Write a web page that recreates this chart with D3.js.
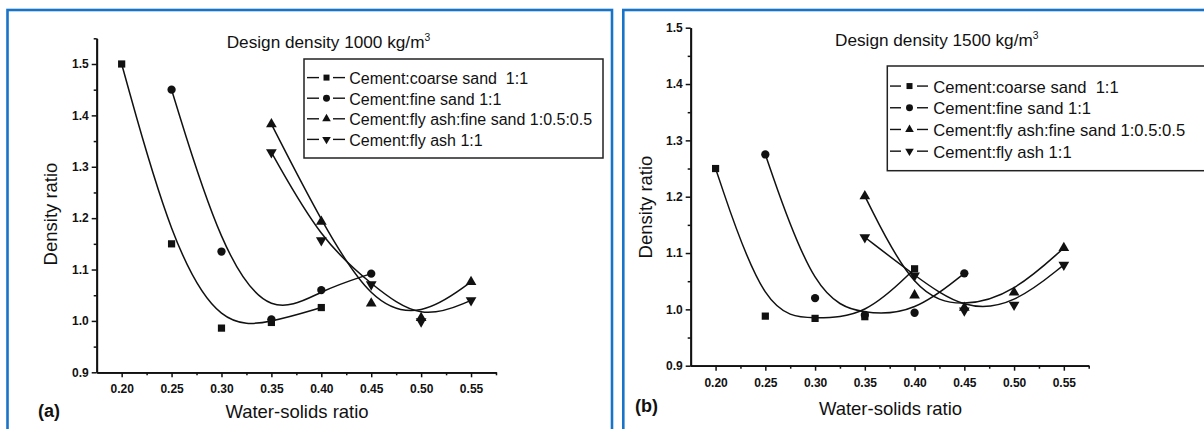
<!DOCTYPE html>
<html><head><meta charset="utf-8">
<script src="https://cdn.jsdelivr.net/npm/d3@7"></script>
<style>
body{margin:0;background:#fff}
svg{display:block}
text{font-family:"Liberation Sans",Arial,Helvetica,sans-serif;fill:#111}
</style>
</head><body><svg id="c" width="1204" height="429"></svg>
<script>
// ---------- data ----------
const xTicks = [0.20,0.25,0.30,0.35,0.40,0.45,0.50,0.55];
const xMinor = [0.225,0.275,0.325,0.375,0.425,0.475,0.525,0.575];
const yTicks = [0.9,1.0,1.1,1.2,1.3,1.4,1.5];
const yMinorA = [0.95,1.05,1.15,1.25,1.35,1.45,1.55];
const yMinorB = [0.95,1.05,1.15,1.25,1.35,1.45];
const seriesNames = ["Cement:coarse sand  1:1","Cement:fine sand 1:1","Cement:fly ash:fine sand 1:0.5:0.5","Cement:fly ash 1:1"];
const seriesMarkers = ["square","circle","triangle","triangleDown"];
const titles = ["Design density 1000 kg/m", "Design density 1500 kg/m"];
const panelLabels = ["(a)","(b)"];

// panel (a): design density 1000 kg/m3
const coarseA_x = [0.20,0.25,0.30,0.35,0.40];
const coarseA_y = [1.500,1.150,0.986,0.997,1.026];
const fineA_x = [0.25,0.30,0.35,0.40,0.45];
const fineA_y = [1.450,1.135,1.003,1.060,1.092];
const flyFineA_x = [0.35,0.40,0.45,0.50,0.55];
const flyFineA_y = [1.383,1.193,1.034,1.006,1.076];
const flyA_x = [0.35,0.40,0.45,0.50,0.55];
const flyA_y = [1.328,1.157,1.071,0.999,1.040];

// panel (b): design density 1500 kg/m3
const coarseB_x = [0.20,0.25,0.30,0.35,0.40];
const coarseB_y = [1.250,0.988,0.984,0.987,1.072];
const fineB_x = [0.25,0.30,0.35,0.40,0.45];
const fineB_y = [1.275,1.020,0.990,0.994,1.064];
const flyFineB_x = [0.35,0.40,0.45,0.50,0.55];
const flyFineB_y = [1.201,1.025,1.003,1.030,1.109];
const flyB_x = [0.35,0.40,0.45,0.50,0.55];
const flyB_y = [1.128,1.060,0.998,1.008,1.079];

// ---------- drawing ----------
const svg = d3.select("#c");
const zip = (xs, ys) => xs.map((x,i)=>({x, y: ys[i]}));

const blue = "#1874c8";
svg.append("rect").attr("x",7.5).attr("y",10).attr("width",604.5).attr("height",440)
  .attr("fill","none").attr("stroke",blue).attr("stroke-width",2.6);
svg.append("rect").attr("x",623.3).attr("y",10).attr("width",620).attr("height",440)
  .attr("fill","none").attr("stroke",blue).attr("stroke-width",2.6);

function marker(g, type, cx, cy, big){
  let sym, size;
  if(type==="square"){sym=d3.symbolSquare; size= big?52:36;}
  else if(type==="circle"){sym=d3.symbolCircle; size= big?54:38;}
  else {sym=d3.symbolTriangle; size= big?50:32;}
  const rot = type==="triangleDown" ? 180 : 0;
  g.append("path").attr("d", d3.symbol(sym, size)())
    .attr("transform", `translate(${cx},${cy}) rotate(${rot})`)
    .attr("fill","#111");
}

function panel(cfg, series){
  const g = svg.append("g");
  const x = d3.scaleLinear().domain([0.175,0.575]).range(cfg.xr);
  const y = d3.scaleLinear().domain(cfg.yd).range(cfg.yr);

  // axes
  const ax = g.append("g").attr("transform",`translate(0,${cfg.yr[0]})`)
    .call(d3.axisBottom(x).tickValues(xTicks).tickFormat(d3.format(".2f")).tickSize(5).tickSizeOuter(0).tickPadding(cfg.xpad));
  const axm = g.append("g").attr("transform",`translate(0,${cfg.yr[0]})`)
    .call(d3.axisBottom(x).tickValues(xMinor).tickFormat("").tickSize(3).tickSizeOuter(0));
  const ay = g.append("g").attr("transform",`translate(${cfg.xr[0]},0)`)
    .call(d3.axisLeft(y).tickValues(yTicks).tickFormat(d3.format(".1f")).tickSize(5).tickSizeOuter(0).tickPadding(cfg.ypad));
  const aym = g.append("g").attr("transform",`translate(${cfg.xr[0]},0)`)
    .call(d3.axisLeft(y).tickValues(cfg.yMinor).tickFormat("").tickSize(3).tickSizeOuter(0));
  [ax,axm,ay,aym].forEach(a=>{
    a.select(".domain").attr("stroke","#111").attr("stroke-width",1.8);
    a.selectAll(".tick line").attr("stroke","#111").attr("stroke-width",1.5);
    a.selectAll(".tick text").attr("font-size",12).attr("font-weight","bold").attr("fill","#222")
      .style("font-family",'"Liberation Sans",Arial,sans-serif');
  });

  // curves (B-spline through data) and markers
  const line = d3.line().x(d=>x(d.x)).y(d=>y(d.y)).curve(d3.curveBasis);
  series.forEach((s,i)=>{
    g.append("path").attr("d", line(s)).attr("fill","none").attr("stroke","#111").attr("stroke-width",1.5);
  });
  series.forEach((s,i)=>{
    s.forEach(d=>marker(g, seriesMarkers[i], x(d.x), y(d.y), true));
  });

  // title
  const t = g.append("text").attr("x",cfg.title[0]).attr("y",cfg.title[1]).attr("font-size",cfg.titleFs);
  t.append("tspan").text(titles[cfg.idx]);
  t.append("tspan").attr("font-size",cfg.titleFs*0.6).attr("dy",-7).text("3");

  // legend
  const L = cfg.leg;
  g.append("rect").attr("x",L.x).attr("y",L.y).attr("width",L.w).attr("height",L.h)
    .attr("fill","#fff").attr("stroke","#222").attr("stroke-width",1.5);
  seriesNames.forEach((n,i)=>{
    const by = L.base + i*L.step;
    const cy = by - L.fs*0.4;
    g.append("line").attr("x1",L.lx).attr("x2",L.lx+L.dash).attr("y1",cy).attr("y2",cy).attr("stroke","#111").attr("stroke-width",1.4);
    g.append("line").attr("x1",L.mx+L.gap).attr("x2",L.mx+L.gap+L.dash).attr("y1",cy).attr("y2",cy).attr("stroke","#111").attr("stroke-width",1.4);
    marker(g, seriesMarkers[i], L.mx, cy, false);
    g.append("text").attr("x",L.tx).attr("y",by).attr("font-size",L.fs).style("white-space","pre").text(n);
  });

  // axis titles
  g.append("text").attr("x",cfg.xt[0]).attr("y",cfg.xt[1]).attr("text-anchor","middle").attr("font-size",18.5).text("Water-solids ratio");
  g.append("text").attr("transform",`translate(${cfg.yt[0]},${cfg.yt[1]}) rotate(-90)`).attr("text-anchor","middle").attr("font-size",18.5).text("Density ratio");
  g.append("text").attr("x",cfg.pl[0]).attr("y",cfg.pl[1]).attr("font-size",18).attr("font-weight","bold").text(panelLabels[cfg.idx]);
}

panel({
  idx:0, xr:[96.7,496], yd:[0.9,1.55], yr:[372.3,38.3], yMinor:yMinorA, xpad:7, ypad:3,
  title:[226.7,48], titleFs:17.2,
  leg:{x:304,y:59,w:299,h:99,lx:307,dash:12,mx:326.5,gap:6.5,tx:349.3,base:84,step:20.6,fs:16},
  xt:[297,418.3], yt:[57.3,214], pl:[38,416.7]
}, [zip(coarseA_x,coarseA_y), zip(fineA_x,fineA_y), zip(flyFineA_x,flyFineA_y), zip(flyA_x,flyA_y)]);

panel({
  idx:1, xr:[690.7,1088.7], yd:[0.9,1.5], yr:[365.7,27.7], yMinor:yMinorB, xpad:8, ypad:3,
  title:[835,46], titleFs:17.2,
  leg:{x:887.3,y:66,w:330,h:104.7,lx:890,dash:11,mx:909.5,gap:7.5,tx:933.3,base:92.7,step:21.7,fs:16.6},
  xt:[890.5,415], yt:[652.3,207], pl:[635,411.7]
}, [zip(coarseB_x,coarseB_y), zip(fineB_x,fineB_y), zip(flyFineB_x,flyFineB_y), zip(flyB_x,flyB_y)]);
</script>
</body></html>
